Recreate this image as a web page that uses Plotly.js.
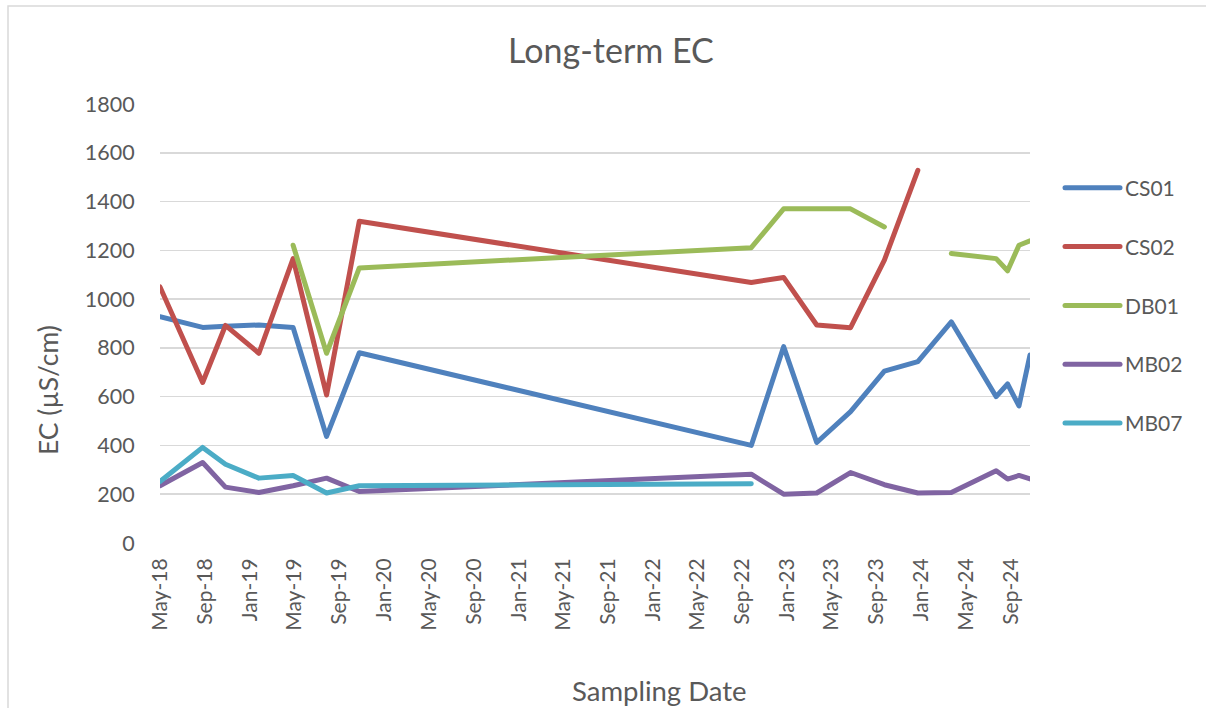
<!DOCTYPE html>
<html>
<head>
<meta charset="utf-8">
<script src="https://cdn.plot.ly/plotly-3.0.1.min.js"></script>
<style>
  html, body { margin: 0; padding: 0; background: #fff; }
  #chart { width: 1206px; height: 708px; }
  .scatterlayer .js-line, .legendlines path { stroke-linejoin: round; stroke-linecap: round; }
</style>
</head>
<body>
<div id="chart"></div>
<script>
// Sampling dates
const dates = [
  "2018-05-15", "2018-09-08", "2018-11-09", "2019-02-08", "2019-05-12",
  "2019-08-11", "2019-11-08", "2022-10-09", "2023-01-05", "2023-04-05",
  "2023-07-06", "2023-10-06", "2024-01-05", "2024-04-05", "2024-08-05",
  "2024-09-05", "2024-10-06", "2024-11-05"
];
// EC values (µS/cm)
const CS01 = [928, 884, 889, 894, 884, 437, 780, 400, 805, 412, 539, 705, 744, 907, 600, 652, 562, 771];
const CS02 = [1050, 658, 892, 778, 1166, 607, 1319, 1068, 1089, 894, 883, 1160, 1528, null, null, null, null, null];
const DB01 = [null, null, null, null, 1221, 778, 1128, 1211, 1370, 1370, 1370, 1296, null, 1187, 1166, 1116, 1221, 1239];
const MB02 = [235, 330, 229, 207, 235, 266, 211, 282, 200, 205, 289, 239, 205, 207, 296, 262, 277, 263];
const MB07 = [252, 392, 323, 266, 277, 205, 235, 243, null, null, null, null, null, null, null, null, null, null];

const seriesNames = ["CS01", "CS02", "DB01", "MB02", "MB07"];
const seriesValues = [CS01, CS02, DB01, MB02, MB07];
const seriesColors = ["#4F81BD", "#C0504D", "#9BBB59", "#8064A2", "#4BACC6"];

const yTicks = [0, 200, 400, 600, 800, 1000, 1200, 1400, 1600, 1800];

const FONT = "Lato, 'Open Sans', sans-serif";
const TXT = "#595959";

const traces = seriesNames.map((name, i) => ({
  type: "scatter",
  mode: "lines",
  name: name,
  x: dates,
  y: seriesValues[i],
  connectgaps: false,
  legendgroup: name,
  line: { color: seriesColors[i], width: 5 },
  hoverinfo: "x+y+name"
}));

const layout = {
  width: 1206,
  height: 708,
  margin: { l: 160, r: 176, t: 104, b: 165, pad: 0 },
  paper_bgcolor: "#ffffff",
  plot_bgcolor: "#ffffff",
  font: { family: FONT, color: TXT, size: 22 },
  title: {
    text: "Long-term EC",
    font: { family: FONT, size: 34, color: TXT },
    x: 0.5066, xref: "container", xanchor: "center",
    y: 0.928, yref: "container", yanchor: "middle"
  },
  xaxis: {
    type: "date",
    range: [dates[0], dates[dates.length - 1]],
    tick0: "2018-05-15",
    dtick: "M4",
    tickformat: "%b-%y",
    tickangle: -90,
    ticks: "outside",
    ticklen: 6,
    tickcolor: "rgba(0,0,0,0)",
    tickfont: { family: FONT, size: 21, color: TXT },
    showgrid: false,
    showline: false,
    zeroline: false,
    fixedrange: true
  },
  yaxis: {
    range: [0, 1800],
    tickvals: yTicks,
    ticktext: yTicks.map(String),
    ticks: "outside",
    ticklen: 20,
    tickcolor: "rgba(0,0,0,0)",
    tickfont: { family: FONT, size: 21.5, color: TXT },
    showgrid: true,
    gridcolor: "#d9d9d9",
    gridwidth: 1.5,
    showline: false,
    zeroline: false,
    fixedrange: true
  },
  showlegend: true,
  legend: {
    x: 1.0345, xanchor: "left",
    y: 0.855, yanchor: "top",
    traceorder: "grouped",
    tracegroupgap: 28.5,
    font: { family: FONT, size: 21, color: TXT },
    bgcolor: "rgba(0,0,0,0)",
    itemwidth: 55
  },
  annotations: [
    {
      text: "Sampling Date", showarrow: false,
      xref: "paper", yref: "paper", x: 0.5736, y: -0.3349,
      xanchor: "center", yanchor: "middle",
      font: { family: FONT, size: 27.5, color: TXT }
    },
    {
      text: "EC (µS/cm)", showarrow: false, textangle: -90,
      xref: "paper", yref: "paper", x: -0.1287, y: 0.3485,
      xanchor: "center", yanchor: "middle",
      font: { family: FONT, size: 26.5, color: TXT }
    }
  ],
  shapes: [
    {
      type: "rect", xref: "paper", yref: "paper",
      x0: -0.1747, x1: 1.36, y0: -0.39, y1: 1.2232,
      line: { color: "#d9d9d9", width: 1.5 },
      fillcolor: "rgba(0,0,0,0)",
      layer: "below"
    }
  ]
};

Plotly.newPlot("chart", traces, layout, { displayModeBar: false, staticPlot: true });
</script>
</body>
</html>
